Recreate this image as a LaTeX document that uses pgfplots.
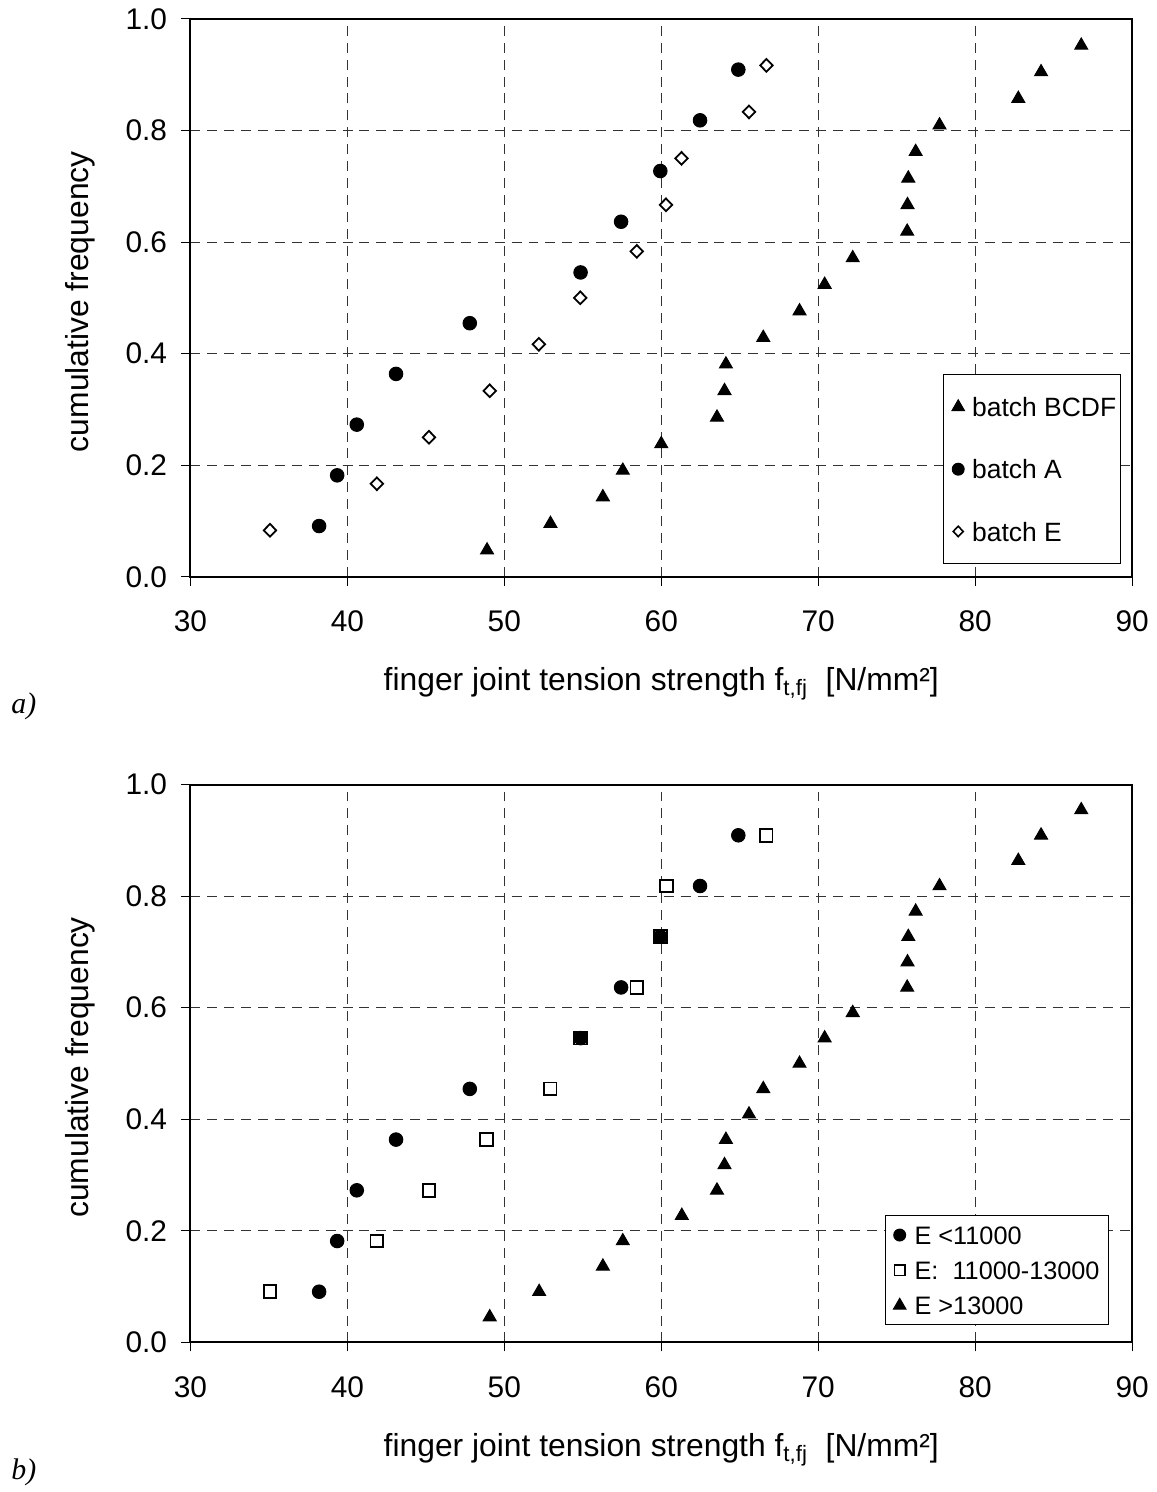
\documentclass[border=0pt]{standalone}
\usepackage{pgfplots}
\pgfplotsset{compat=1.18}
\usepackage{pgfplotstable}
\usepackage{fontspec}
\setmainfont{Liberation Sans}
\newfontfamily\serifit{Liberation Serif}

\pgfplotstableread{
x y
48.9 0.0476
52.94 0.0952
56.28 0.1429
57.55 0.1905
60.0 0.2381
63.55 0.2857
64.03 0.3333
64.12 0.3810
66.5 0.4286
68.81 0.4762
70.41 0.5238
72.2 0.5714
75.67 0.6190
75.69 0.6667
75.74 0.7143
76.21 0.7619
77.73 0.8095
82.75 0.8571
84.2 0.9048
86.76 0.9524
}\batchBCDF

\pgfplotstableread{
x y
38.2 0.0909
39.35 0.1818
40.6 0.2727
43.1 0.3636
47.8 0.4545
54.86 0.5455
57.44 0.6364
59.94 0.7273
62.47 0.8182
64.91 0.9091
}\batchA

\pgfplotstableread{
x y
35.07 0.0833
41.88 0.1667
45.2 0.2500
49.07 0.3333
52.2 0.4167
54.84 0.5000
58.44 0.5833
60.3 0.6667
61.29 0.7500
65.59 0.8333
66.7 0.9167
}\batchE

\pgfplotstableread{
x y
38.2 0.0909
39.35 0.1818
40.6 0.2727
43.1 0.3636
47.8 0.4545
54.86 0.5455
57.44 0.6364
59.94 0.7273
62.47 0.8182
64.91 0.9091
}\Elow

\pgfplotstableread{
x y
35.07 0.0909
41.88 0.1818
45.2 0.2727
48.88 0.3636
52.92 0.4545
54.86 0.5455
58.44 0.6364
59.94 0.7273
60.32 0.8182
66.68 0.9091
}\Emid

\pgfplotstableread{
x y
49.07 0.0455
52.22 0.0909
56.28 0.1364
57.55 0.1818
61.31 0.2273
63.55 0.2727
64.03 0.3182
64.12 0.3636
65.59 0.4091
66.5 0.4545
68.81 0.5000
70.41 0.5455
72.2 0.5909
75.67 0.6364
75.69 0.6818
75.74 0.7273
76.21 0.7727
77.73 0.8182
82.75 0.8636
84.2 0.9091
86.76 0.9545
}\Ehigh

\pgfplotsset{
  myaxis/.style={
    scale only axis, width=473.5pt, height=280.5pt,
    xmin=30, xmax=90, ymin=0, ymax=1,
    xtick={30,40,50,60,70,80,90},
    ytick={0,0.2,0.4,0.6,0.8,1},
    /pgf/number format/assume math mode=true,
    tick label style={font=\fontsize{15}{18}\selectfont},
    xticklabel style={yshift=-9pt},
    yticklabel style={xshift=-3.7pt, /pgf/number format/.cd, fixed, fixed zerofill, precision=1},
    label style={font=\fontsize{16}{19}\selectfont},
    grid=major,
    major grid style={black!80, line width=0.5pt, dash pattern=on 5pt off 3.5pt},
    axis line style={black, line width=1pt},
    tick align=outside, major tick length=4.5pt,
    tick style={black, line width=0.5pt},
    xtick pos=bottom, ytick pos=left,
    xlabel={finger joint tension strength f\textsubscript{t,fj}\ \ [N/mm²]},
    ylabel={cumulative frequency},
    xlabel style={at={(axis description cs:0.5,-0.192)}, anchor=center},
    ylabel style={at={(axis description cs:-0.1172,0.493)}, anchor=center, rotate=0},
    clip mode=individual,
    legend cell align=left,
  },
  legmark/.style 2 args={legend image code/.code={%
      \pgfpathrectanglecorners{\pgfpoint{-#1}{-1pt}}{\pgfpoint{#2}{1pt}}\pgfusepath{discard}%
      \draw[##1] plot coordinates {(0pt,0pt)};}},
  tri/.style={only marks, mark=triangle*, mark size=3.75pt, mark options={fill=black, draw=black, line width=0.5pt}},
  circ/.style={only marks, mark=*, mark size=3.4pt, mark options={fill=black, draw=black, line width=0.5pt}},
  dia/.style={only marks, mark=diamond*, mark size=3.2pt, mark options={fill=white, draw=black, line width=0.9pt, xscale=1.3}},
  sq/.style={only marks, mark=square*, mark size=3.2pt, mark options={fill=white, draw=black, line width=0.9pt}},
}

\begin{document}
\begin{tikzpicture}
\path (-95.75pt,-456pt) rectangle (485.75pt,290pt);
% ---------- a) ----------
\begin{axis}[myaxis, at={(0,0)}, anchor=south west,
  legend style={at={(rel axis cs:0.799,0.363)}, anchor=north west,
    font=\fontsize{13.3}{16}\selectfont, draw=black, line width=0.5pt,
    row sep=21.5pt, inner xsep=1pt, inner ysep=11.3pt,
    nodes={inner xsep=1pt, inner ysep=0pt, text height=9.8pt, text depth=0pt},
    /tikz/every odd column/.append style={column sep=2.5pt}},
  legend image post style={line width=0.5pt}]
\addlegendimage{only marks, mark=triangle*, mark size=3.6pt, mark options={fill=black}, legmark={6.5pt}{3.5pt}}
\addlegendentry{batch BCDF}
\addlegendimage{only marks, mark=*, mark size=3pt, mark options={fill=black}, legmark={6.5pt}{3.5pt}}
\addlegendentry{batch A}
\addlegendimage{only marks, mark=diamond*, mark size=2.6pt, mark options={fill=white, line width=0.8pt, xscale=1.3}, legmark={6.5pt}{3.5pt}}
\addlegendentry{batch E}
\addplot[tri, forget plot] table[x=x, y=y] {\batchBCDF};
\addplot[circ, forget plot] table[x=x, y=y] {\batchA};
\addplot[dia, forget plot] table[x=x, y=y] {\batchE};
\node[font=\serifit\itshape\fontsize{15}{18}\selectfont] at (axis description cs:-0.1769,-0.232) {a)};
\end{axis}
% ---------- b) ----------
\begin{axis}[myaxis, at={(0,-385pt)}, anchor=south west,
  legend style={at={(rel axis cs:0.7376,0.228)}, anchor=north west,
    font=\fontsize{12.7}{15}\selectfont, draw=black, line width=0.5pt,
    row sep=8.3pt, inner xsep=2pt, inner ysep=5pt,
    nodes={inner xsep=2.5pt, inner ysep=0pt, text height=9.4pt, text depth=0pt},
    /tikz/every odd column/.append style={column sep=1.5pt}},
  legend image post style={line width=0.5pt}]
\addlegendimage{only marks, mark=*, mark size=3pt, mark options={fill=black}, legmark={5.15pt}{3.5pt}}
\addlegendentry{E <11000}
\addlegendimage{only marks, mark=square*, mark size=2.7pt, mark options={fill=white, line width=0.8pt}, legmark={5.15pt}{3.5pt}}
\addlegendentry{E:\ \ 11000-13000}
\addlegendimage{only marks, mark=triangle*, mark size=3.6pt, mark options={fill=black}, legmark={5.15pt}{3.5pt}}
\addlegendentry{E >13000}
\addplot[sq, forget plot] table[x=x, y=y] {\Emid};
\addplot[circ, forget plot] table[x=x, y=y] {\Elow};
\addplot[tri, forget plot] table[x=x, y=y] {\Ehigh};
\node[font=\serifit\itshape\fontsize{15}{18}\selectfont] at (axis description cs:-0.1769,-0.232) {b)};
\end{axis}
\end{tikzpicture}
\end{document}
